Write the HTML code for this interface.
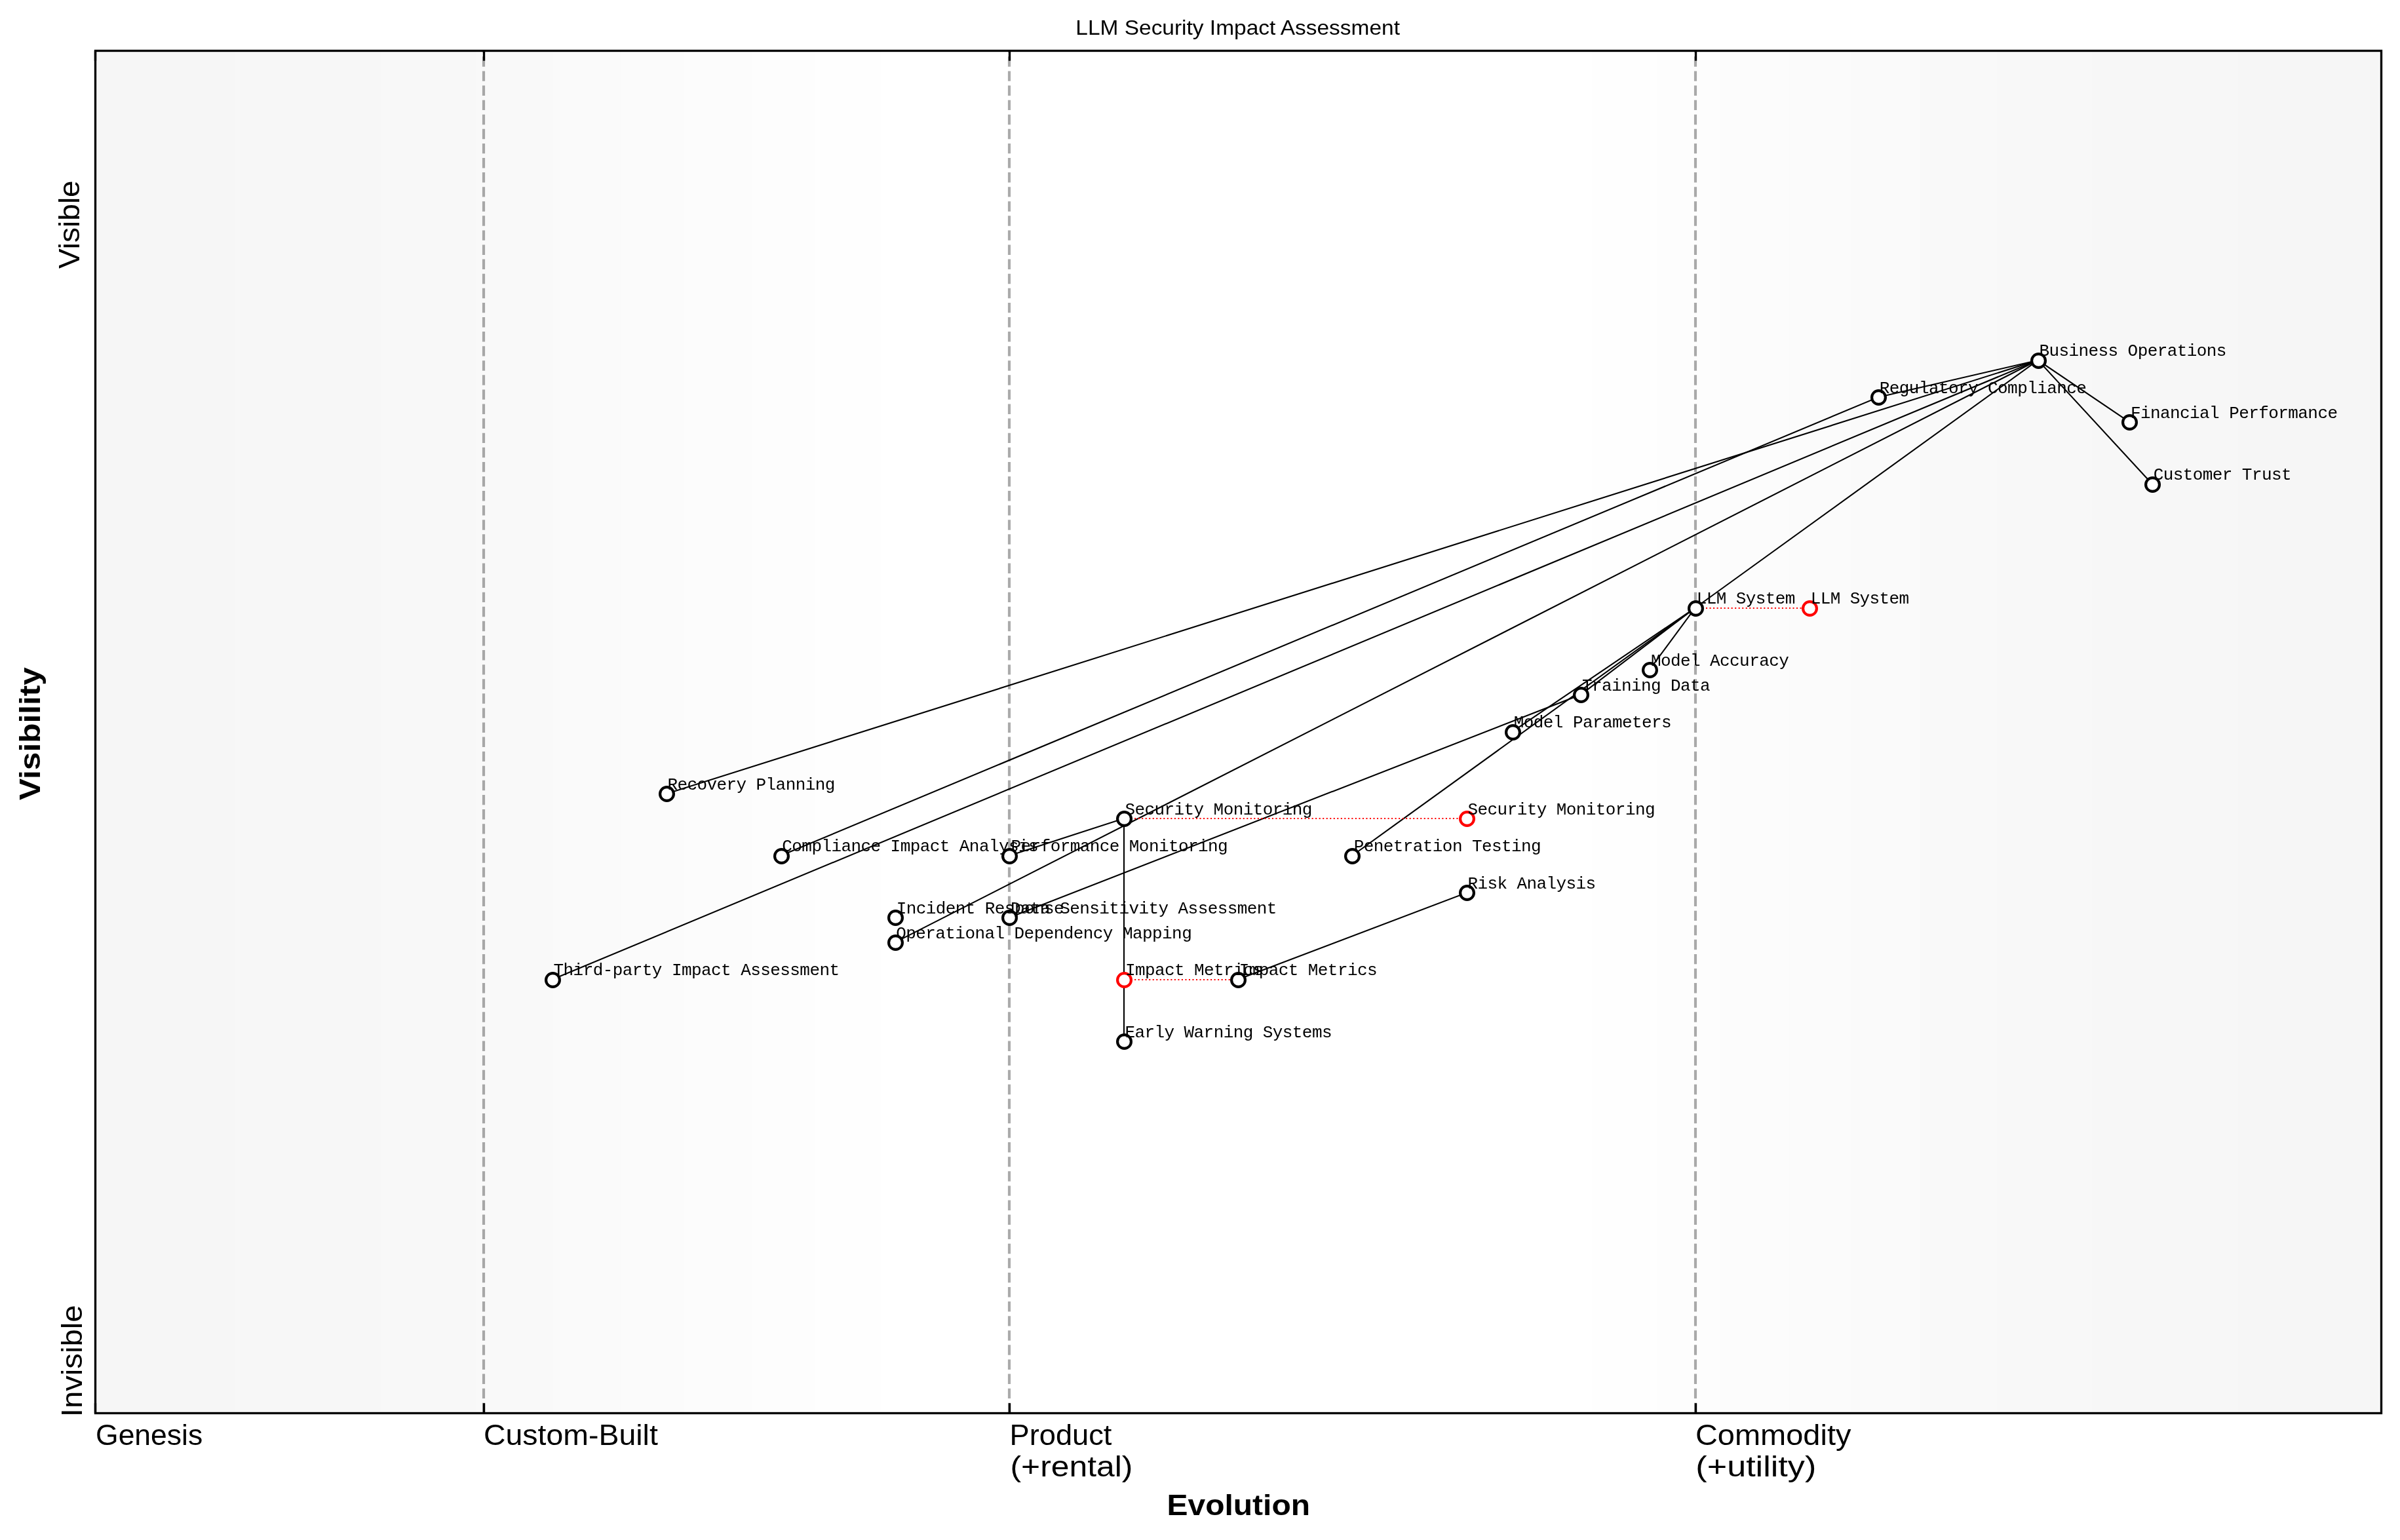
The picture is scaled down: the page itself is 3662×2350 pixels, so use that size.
<!DOCTYPE html>
<html lang="en"><head><meta charset="utf-8"><title>LLM Security Impact Assessment</title>
<style>
html,body{margin:0;padding:0;background:#fff;}
body{width:3662px;height:2350px;overflow:hidden;}
svg{display:block;will-change:transform;}
text{fill:#000;}
.sans{font-family:"Liberation Sans",sans-serif;}
.mono{font-family:"Liberation Mono",monospace;font-size:26.0px;}
.edge{stroke:#000;stroke-width:2.1;fill:none;stroke-linecap:square;}
.evo{stroke:#ff0000;stroke-width:2;fill:none;stroke-dasharray:2.08 3.44;}
.dash{stroke:#000;stroke-opacity:0.33;stroke-width:4.17;fill:none;stroke-dasharray:15.42 6.67;}
.node{fill:#fff;stroke:#000;stroke-width:4.17;}
.nodeR{fill:#fff;stroke:#ff0000;stroke-width:4.17;}
.tick{stroke:#000;stroke-width:3.33;}
</style></head><body>
<svg width="3662" height="2350" viewBox="0 0 3662 2350">
<rect x="0" y="0" width="3662" height="2350" fill="#ffffff"/>
<g shape-rendering="crispEdges">
<rect x="147" y="79" width="211" height="2076" fill="rgb(246,246,246)"/>
<rect x="358" y="79" width="223" height="2076" fill="rgb(247,247,247)"/>
<rect x="581" y="79" width="145" height="2076" fill="rgb(248,248,248)"/>
<rect x="726" y="79" width="118" height="2076" fill="rgb(249,249,249)"/>
<rect x="844" y="79" width="104" height="2076" fill="rgb(250,250,250)"/>
<rect x="948" y="79" width="96" height="2076" fill="rgb(251,251,251)"/>
<rect x="1044" y="79" width="104" height="2076" fill="rgb(252,252,252)"/>
<rect x="1148" y="79" width="96" height="2076" fill="rgb(253,253,253)"/>
<rect x="1244" y="79" width="100" height="2076" fill="rgb(254,254,254)"/>
<rect x="1344" y="79" width="1085" height="2076" fill="rgb(255,255,255)"/>
<rect x="2429" y="79" width="100" height="2076" fill="rgb(254,254,254)"/>
<rect x="2529" y="79" width="95" height="2076" fill="rgb(253,253,253)"/>
<rect x="2624" y="79" width="105" height="2076" fill="rgb(252,252,252)"/>
<rect x="2729" y="79" width="95" height="2076" fill="rgb(251,251,251)"/>
<rect x="2824" y="79" width="105" height="2076" fill="rgb(250,250,250)"/>
<rect x="2929" y="79" width="118" height="2076" fill="rgb(249,249,249)"/>
<rect x="3047" y="79" width="145" height="2076" fill="rgb(248,248,248)"/>
<rect x="3192" y="79" width="223" height="2076" fill="rgb(247,247,247)"/>
<rect x="3415" y="79" width="217" height="2076" fill="rgb(246,246,246)"/>
</g>
<g class="dash">
<path d="M738.00 2156.15V77.50"/>
<path d="M1540.00 2156.15V77.50"/>
<path d="M2587.00 2156.15V77.50"/>
</g>
<g class="edge">
<path d="M3109.62 549.65L2865.50 606.35"/>
<path d="M3109.62 549.65L3249.12 644.15"/>
<path d="M3109.62 549.65L3284.00 738.65"/>
<path d="M3109.62 549.65L2586.50 927.65"/>
<path d="M3109.62 549.65L1017.12 1211.15"/>
<path d="M3109.62 549.65L842.75 1494.65"/>
<path d="M3109.62 549.65L1365.88 1437.95"/>
<path d="M2865.50 606.35L1191.50 1305.65"/>
<path d="M2586.50 927.65L2516.75 1022.15"/>
<path d="M2586.50 927.65L2412.12 1059.95"/>
<path d="M2586.50 927.65L2307.50 1116.65"/>
<path d="M2586.50 927.65L2063.38 1305.65"/>
<path d="M2412.12 1059.95L1540.25 1400.15"/>
<path d="M1714.62 1248.95L1540.25 1305.65"/>
<path d="M1715.00 1248.95V1589.15"/>
<path d="M2237.75 1362.35L1889.00 1494.65"/>
</g>
<g class="evo">
<path d="M2602.99 928.00H2760.88"/>
<path d="M1731.12 1249.00H2237.75"/>
<path d="M1731.12 1495.00H1889.00"/>
</g>
<g class="node">
<circle cx="3110.5" cy="550.5" r="10.42"/>
<circle cx="2866.5" cy="606.5" r="10.42"/>
<circle cx="3249.5" cy="644.5" r="10.42"/>
<circle cx="3284.5" cy="739.5" r="10.42"/>
<circle cx="2587.5" cy="928.5" r="10.42"/>
<circle cx="2517.5" cy="1022.5" r="10.42"/>
<circle cx="2412.5" cy="1060.5" r="10.42"/>
<circle cx="2308.5" cy="1117.5" r="10.42"/>
<circle cx="1017.5" cy="1211.5" r="10.42"/>
<circle cx="1715.5" cy="1249.5" r="10.42"/>
<circle cx="1192.5" cy="1306.5" r="10.42"/>
<circle cx="1540.5" cy="1306.5" r="10.42"/>
<circle cx="2063.5" cy="1306.5" r="10.42"/>
<circle cx="2238.5" cy="1362.5" r="10.42"/>
<circle cx="1366.5" cy="1400.5" r="10.42"/>
<circle cx="1540.5" cy="1400.5" r="10.42"/>
<circle cx="1366.5" cy="1438.5" r="10.42"/>
<circle cx="843.5" cy="1495.5" r="10.42"/>
<circle cx="1889.5" cy="1495.5" r="10.42"/>
<circle cx="1715.5" cy="1589.5" r="10.42"/>
</g>
<g class="nodeR">
<circle cx="2761.5" cy="928.5" r="10.42"/>
<circle cx="2238.5" cy="1249.5" r="10.42"/>
<circle cx="1715.5" cy="1495.5" r="10.42"/>
</g>
<g class="mono">
<text x="3111.42" y="543" textLength="286.00" lengthAdjust="spacing">Business Operations</text>
<text x="2867.79" y="600" textLength="316.10" lengthAdjust="spacing">Regulatory Compliance</text>
<text x="3250.92" y="638" textLength="316.10" lengthAdjust="spacing">Financial Performance</text>
<text x="3285.79" y="732" textLength="210.73" lengthAdjust="spacing">Customer Trust</text>
<text x="2588.79" y="921" textLength="150.52" lengthAdjust="spacing">LLM System</text>
<text x="2519.04" y="1016" textLength="210.73" lengthAdjust="spacing">Model Accuracy</text>
<text x="2413.92" y="1054" textLength="195.68" lengthAdjust="spacing">Training Data</text>
<text x="2309.79" y="1110" textLength="240.84" lengthAdjust="spacing">Model Parameters</text>
<text x="1018.42" y="1205" textLength="255.89" lengthAdjust="spacing">Recovery Planning</text>
<text x="1716.42" y="1243" textLength="286.00" lengthAdjust="spacing">Security Monitoring</text>
<text x="1193.29" y="1299" textLength="391.36" lengthAdjust="spacing">Compliance Impact Analysis</text>
<text x="1542.54" y="1299" textLength="331.15" lengthAdjust="spacing">Performance Monitoring</text>
<text x="2065.67" y="1299" textLength="286.00" lengthAdjust="spacing">Penetration Testing</text>
<text x="2239.54" y="1356" textLength="195.68" lengthAdjust="spacing">Risk Analysis</text>
<text x="1367.67" y="1394" textLength="255.89" lengthAdjust="spacing">Incident Response</text>
<text x="1542.04" y="1394" textLength="406.42" lengthAdjust="spacing">Data Sensitivity Assessment</text>
<text x="1367.17" y="1432" textLength="451.57" lengthAdjust="spacing">Operational Dependency Mapping</text>
<text x="844.54" y="1488" textLength="436.52" lengthAdjust="spacing">Third-party Impact Assessment</text>
<text x="1890.79" y="1488" textLength="210.73" lengthAdjust="spacing">Impact Metrics</text>
<text x="1716.42" y="1583" textLength="316.10" lengthAdjust="spacing">Early Warning Systems</text>
<text x="2762.67" y="921" textLength="150.52" lengthAdjust="spacing">LLM System</text>
<text x="2239.54" y="1243" textLength="286.00" lengthAdjust="spacing">Security Monitoring</text>
<text x="1716.92" y="1488" textLength="210.73" lengthAdjust="spacing">Impact Metrics</text>
</g>
<rect x="145.50" y="77.50" width="3488.00" height="2079.00" fill="none" stroke="#000" stroke-width="3.33"/>
<g class="tick">
<path d="M145.5 77.50v15.2M145.5 2156.50v-15.2"/>
<path d="M738.5 77.50v15.2M738.5 2156.50v-15.2"/>
<path d="M1540.5 77.50v15.2M1540.5 2156.50v-15.2"/>
<path d="M2587.5 77.50v15.2M2587.5 2156.50v-15.2"/>
</g>
<text class="sans" x="1888.64" y="52.80" font-size="31.80" textLength="494.59" lengthAdjust="spacingAndGlyphs" text-anchor="middle">LLM Security Impact Assessment</text>
<text class="sans" x="146.04" y="2205.00" font-size="44.17" textLength="163.21" lengthAdjust="spacingAndGlyphs">Genesis</text>
<text class="sans" x="737.99" y="2205.00" font-size="44.17" textLength="265.84" lengthAdjust="spacingAndGlyphs">Custom-Built</text>
<text class="sans" x="1540.53" y="2205.00" font-size="44.17" textLength="155.91" lengthAdjust="spacingAndGlyphs">Product</text>
<text class="sans" x="1541.51" y="2253.00" font-size="44.17" textLength="186.82" lengthAdjust="spacingAndGlyphs">(+rental)</text>
<text class="sans" x="2586.90" y="2205.00" font-size="44.17" textLength="237.54" lengthAdjust="spacingAndGlyphs">Commodity</text>
<text class="sans" x="2587.36" y="2253.00" font-size="44.17" textLength="183.92" lengthAdjust="spacingAndGlyphs">(+utility)</text>
<text class="sans" x="1889.79" y="2312.00" font-size="44.17" textLength="218.40" lengthAdjust="spacingAndGlyphs" font-weight="bold" text-anchor="middle">Evolution</text>
<text class="sans" transform="translate(61.20 1119.61) rotate(-90)" font-size="44.17" textLength="202.91" lengthAdjust="spacingAndGlyphs" font-weight="bold" text-anchor="middle">Visibility</text>
<text class="sans" transform="translate(121.00 409.97) rotate(-90)" font-size="44.17" textLength="134.65" lengthAdjust="spacingAndGlyphs">Visible</text>
<text class="sans" transform="translate(125.00 2162.17) rotate(-90)" font-size="44.17" textLength="170.68" lengthAdjust="spacingAndGlyphs">Invisible</text>
</svg></body></html>
